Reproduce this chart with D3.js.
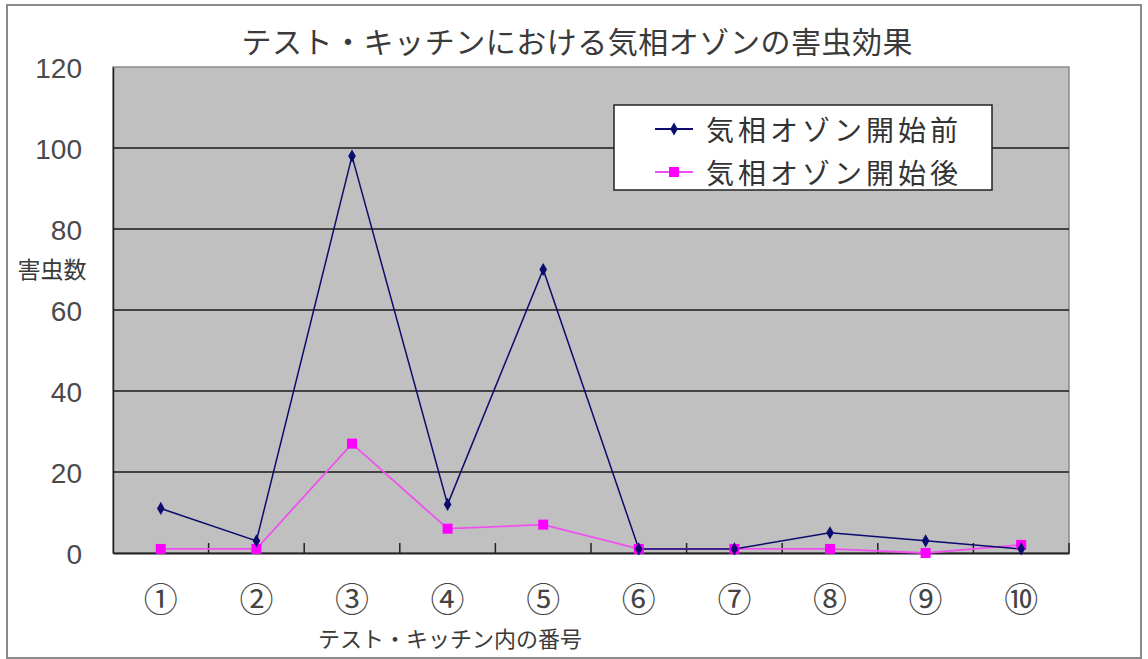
<!DOCTYPE html>
<html><head><meta charset="utf-8">
<script src="https://cdn.jsdelivr.net/npm/d3@7/dist/d3.min.js"></script>
<style>
html,body{margin:0;padding:0;background:#fff;}
svg{display:block;}
</style></head>
<body>
<svg id="chart" width="1148" height="659"></svg>
<script>
const categories = ["①","②","③","④","⑤","⑥","⑦","⑧","⑨","⑩"];
const seriesNames = ["気相オゾン開始前","気相オゾン開始後"];
const before = [11, 3, 98, 12, 70, 1, 1, 5, 3, 1];
const after  = [1, 1, 27, 6, 7, 1, 1, 1, 0, 2];
const yTicks = [0, 20, 40, 60, 80, 100, 120];
const title = "テスト・キッチンにおける気相オゾンの害虫効果";
const xTitle = "テスト・キッチン内の番号";
const yTitle = "害虫数";

const svg = d3.select("#chart");
const jp = "'Noto Sans CJK JP', sans-serif";
const num = "'Liberation Sans', Arial, sans-serif";
const L = 113, R = 1069, T = 67, B = 553;

// outer frame
svg.append("rect").attr("x",7).attr("y",5).attr("width",1134).attr("height",653)
  .attr("fill","#fff").attr("stroke","#8a8a8a").attr("stroke-width",2);

const x = d3.scaleBand().domain(categories).range([L, R]);
const y = d3.scaleLinear().domain([0, 120]).range([B, T]);
const cx = d => x(d) + x.bandwidth()/2;

// plot area
svg.append("rect").attr("x",L).attr("y",T).attr("width",R-L).attr("height",B-T)
  .attr("fill","#c0c0c0").attr("stroke","#8c8c8c").attr("stroke-width",1.5);

// gridlines
svg.append("g").selectAll("line").data(yTicks.filter(v => v > 0 && v < 120)).join("line")
  .attr("x1",L).attr("x2",R).attr("y1",d=>y(d)).attr("y2",d=>y(d))
  .attr("stroke","#1a1a1a").attr("stroke-width",1.6);

// y axis
const yAxis = d3.axisLeft(y).tickValues(yTicks).tickSize(0).tickPadding(31);
const gy = svg.append("g").attr("transform",`translate(${L},0)`).call(yAxis);
gy.select(".domain").attr("stroke","#222").attr("stroke-width",1.5);
gy.selectAll("text").attr("font-family",num).attr("font-size",28).attr("fill","#4a4a4a")
  .attr("dy","0.36em");

// x axis (ticks between categories, pointing up)
const xAxis = d3.axisBottom(x).tickSize(0).tickPadding(47);
const gx = svg.append("g").attr("transform",`translate(0,${B})`).call(xAxis);
gx.select(".domain").attr("stroke","#222").attr("stroke-width",2);
gx.selectAll("text").attr("font-family",jp).attr("font-size",34).attr("fill","#444")
  .attr("dy","0.36em");
svg.append("g").selectAll("line").data(categories.slice(1).concat(["end"])).join("line")
  .attr("x1",d => d==="end" ? R : x(d)).attr("x2",d => d==="end" ? R : x(d))
  .attr("y1",B).attr("y2",B-10).attr("stroke","#222").attr("stroke-width",1.5);

// series
const navy = "#0c0c6e", pink = "#ff00ff";
const line = d3.line().x((d,i)=>cx(categories[i])).y(d=>y(d));
svg.append("path").datum(after).attr("d",line).attr("fill","none")
  .attr("stroke","#f050f0").attr("stroke-width",1.8);
svg.append("path").datum(before).attr("d",line).attr("fill","none")
  .attr("stroke",navy).attr("stroke-width",1.5);
svg.append("g").selectAll("rect").data(after).join("rect")
  .attr("x",(d,i)=>cx(categories[i])-5).attr("y",d=>y(d)-5)
  .attr("width",10).attr("height",10).attr("fill",pink);
const diamond = d3.symbol().type(d3.symbolDiamond).size(50);
svg.append("g").selectAll("path").data(before).join("path")
  .attr("d",diamond).attr("transform",(d,i)=>`translate(${cx(categories[i])},${y(d)})`)
  .attr("fill",navy);

// title
svg.append("text").attr("x",577).attr("y",40).attr("text-anchor","middle")
  .attr("dominant-baseline","central").attr("font-family",jp).attr("font-size",30)
  .attr("fill","#3a3a3a").attr("textLength",671).attr("lengthAdjust","spacing").text(title);

// axis titles
svg.append("text").attr("x",450).attr("y",637).attr("text-anchor","middle")
  .attr("dominant-baseline","central").attr("font-family",jp).attr("font-size",22)
  .attr("fill","#3a3a3a").text(xTitle);
svg.append("text").attr("x",52).attr("y",268).attr("text-anchor","middle")
  .attr("dominant-baseline","central").attr("font-family",jp).attr("font-size",23)
  .attr("fill","#3a3a3a").text(yTitle);

// legend
const lg = svg.append("g");
lg.append("rect").attr("x",614).attr("y",105).attr("width",378).attr("height",85)
  .attr("fill","#fff").attr("stroke","#222").attr("stroke-width",1.5);
const entries = [{name:seriesNames[0], color:navy, mark:"d"},{name:seriesNames[1], color:pink, mark:"s"}];
entries.forEach((e,i)=>{
  const yy = 129 + i*43;
  lg.append("line").attr("x1",655).attr("x2",693).attr("y1",yy).attr("y2",yy)
    .attr("stroke", i===0 ? navy : "#f050f0").attr("stroke-width",1.8);
  if (e.mark==="d") lg.append("path").attr("d",diamond).attr("transform",`translate(674,${yy})`).attr("fill",navy);
  else lg.append("rect").attr("x",669).attr("y",yy-5).attr("width",10).attr("height",10).attr("fill",pink);
  lg.append("text").attr("x",706).attr("y",yy).attr("dominant-baseline","central")
    .attr("font-family",jp).attr("font-size",28).attr("fill","#333")
    .attr("textLength",252).attr("lengthAdjust","spacing").text(e.name);
});
</script>
</body></html>
